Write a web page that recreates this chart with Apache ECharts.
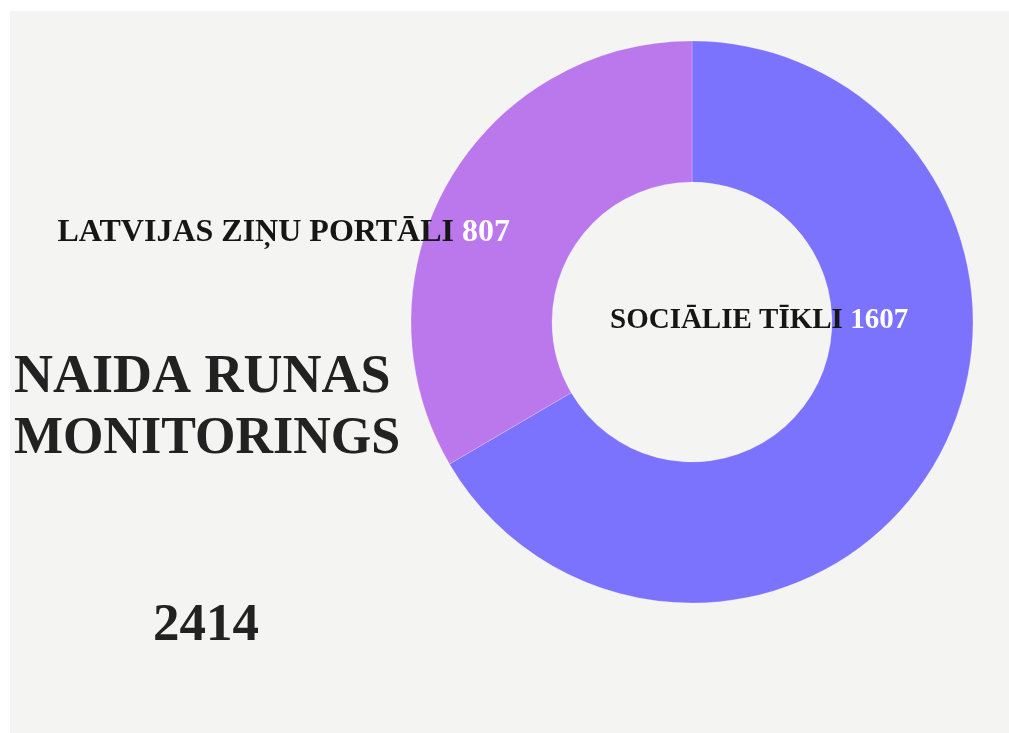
<!DOCTYPE html>
<html>
<head>
<meta charset="utf-8">
<script src="https://cdn.jsdelivr.net/npm/echarts@6/dist/echarts.min.js"></script>
<style>
  html, body { margin: 0; padding: 0; background: #ffffff; }
  #chart { width: 1009px; height: 733px; }
</style>
</head>
<body>
<div id="chart"></div>
<script>
// data
const categories = ['SOCIĀLIE TĪKLI', 'LATVIJAS ZIŅU PORTĀLI'];
const values = [1607, 807];
const colors = ['#7b72fe', '#bb77ec'];
const titleLines = ['NAIDA RUNAS', 'MONITORINGS'];
const total = values.reduce((a, b) => a + b, 0);

const chart = echarts.init(document.getElementById('chart'));

const serif = '"Liberation Serif", "DejaVu Serif", serif';

function labelText(name, value) {
  return '{n|' + name + ' }{v|' + value + '}';
}

const option = {
  animation: false,
  backgroundColor: '#ffffff',
  graphic: [
    {
      type: 'rect',
      z: -10,
      shape: { x: 10, y: 11, width: 999, height: 722 },
      style: { fill: '#f4f4f2' }
    },
    {
      type: 'text',
      z: 10,
      x: 510, y: 233,
      style: {
        text: labelText(categories[1], values[1]),
        align: 'right', verticalAlign: 'middle',
        rich: {
          n: { fontFamily: serif, fontWeight: 'bold', fontSize: 32, fill: '#161616' },
          v: { fontFamily: serif, fontWeight: 'bold', fontSize: 32, fill: '#ffffff' }
        }
      }
    },
    {
      type: 'text',
      z: 10,
      x: 610, y: 321,
      style: {
        text: labelText(categories[0], values[0]),
        align: 'left', verticalAlign: 'middle',
        rich: {
          n: { fontFamily: serif, fontWeight: 'bold', fontSize: 29, fill: '#161616' },
          v: { fontFamily: serif, fontWeight: 'bold', fontSize: 29, fill: '#ffffff' }
        }
      }
    },
    {
      type: 'text',
      x: 14, y: 378,
      style: {
        text: titleLines[0], align: 'left', verticalAlign: 'middle',
        fontFamily: serif, fontWeight: 'bold', fontSize: 54, fill: '#222222'
      }
    },
    {
      type: 'text',
      x: 14, y: 440,
      style: {
        text: titleLines[1], align: 'left', verticalAlign: 'middle',
        fontFamily: serif, fontWeight: 'bold', fontSize: 52, fill: '#222222'
      }
    },
    {
      type: 'text',
      x: 206, y: 626,
      style: {
        text: String(total), align: 'center', verticalAlign: 'middle',
        fontFamily: serif, fontWeight: 'bold', fontSize: 53, fill: '#222222'
      }
    }
  ],
  series: [
    {
      type: 'pie',
      center: [692, 322],
      radius: [140, 281],
      startAngle: 90,
      clockwise: true,
      silent: true,
      label: { show: false },
      labelLine: { show: false },
      itemStyle: { borderColor: 'rgba(255,255,255,0.35)', borderWidth: 0.6 },
      data: categories.map((c, i) => ({
        name: c,
        value: values[i],
        itemStyle: { color: colors[i] }
      }))
    }
  ]
};

chart.setOption(option);
</script>
</body>
</html>
